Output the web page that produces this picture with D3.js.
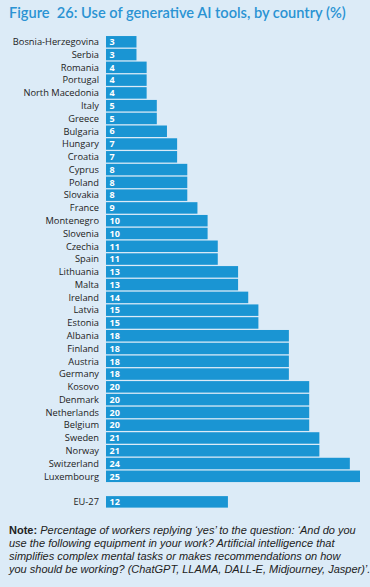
<!DOCTYPE html>
<html><head><meta charset="utf-8">
<script src="https://cdn.jsdelivr.net/npm/d3@7"></script>
<style>
html,body{margin:0;padding:0;background:#dcebf7;}
svg{display:block;}
</style></head>
<body>
<script>
const countries = ["Bosnia-Herzegovina","Serbia","Romania","Portugal","North Macedonia","Italy","Greece","Bulgaria","Hungary","Croatia","Cyprus","Poland","Slovakia","France","Montenegro","Slovenia","Czechia","Spain","Lithuania","Malta","Ireland","Latvia","Estonia","Albania","Finland","Austria","Germany","Kosovo","Denmark","Netherlands","Belgium","Sweden","Norway","Switzerland","Luxembourg"];
const values = [3,3,4,4,4,5,5,6,7,7,8,8,8,9,10,10,11,11,13,13,14,15,15,18,18,18,18,20,20,20,20,21,21,24,25];
const euLabel = "EU-27";
const euValue = 12;
const title = "Figure\u00a0 26: Use of generative AI tools, by country (%)";
const noteLines = [
  ["Note: ", "Percentage of workers replying \u2018yes\u2019 to the question: \u2018And do you"],
  ["", "use the following equipment in your work? Artificial intelligence that"],
  ["", "simplifies complex mental tasks or makes recommendations on how"],
  ["", "you should be working? (ChatGPT, LLAMA, DALL-E, Midjourney, Jasper)\u2019."]
];

const W = 370, H = 587;
const svg = d3.select("body").append("svg").attr("width", W).attr("height", H);
svg.append("rect").attr("width", W).attr("height", H).attr("fill", "#dcebf7");

svg.append("text").attr("x", 9).attr("y", 18)
  .attr("font-family", "Lato, 'Open Sans', sans-serif").attr("font-weight", 600)
  .attr("font-size", 14.6).attr("fill", "#2a93d3").text(title);

const rows = countries.concat(["", euLabel]);
const rowVals = values.concat([null, euValue]);
const y = d3.scaleBand().domain(d3.range(rows.length)).range([35.4, 35.4 + 12.78 * rows.length]).paddingInner(0.1).paddingOuter(0.05);
const x = d3.scaleLinear().domain([0, 25]).range([106, 360]);

const g = svg.append("g");
rows.forEach((c, i) => {
  if (rowVals[i] == null) return;
  g.append("rect").attr("x", x(0)).attr("y", y(i)).attr("width", x(rowVals[i]) - x(0))
    .attr("height", y.bandwidth()).attr("fill", "#1a95d3");
  g.append("text").attr("x", x(0) - 7).attr("y", y(i) + y.bandwidth() / 2).attr("dy", "0.35em")
    .attr("text-anchor", "end").attr("font-family", "'Open Sans', sans-serif").attr("font-size", 9.3)
    .attr("fill", "#222").text(c);
  g.append("text").attr("x", x(0) + 3.5).attr("y", y(i) + y.bandwidth() / 2).attr("dy", "0.36em")
    .attr("font-family", "'Open Sans', sans-serif").attr("font-size", 9).attr("font-weight", 700)
    .attr("fill", "#fff").text(rowVals[i]);
});

noteLines.forEach((l, i) => {
  const t = svg.append("text").attr("x", 9).attr("y", 534 + i * 13)
    .attr("font-family", "'Liberation Sans', Arial, sans-serif").attr("font-size", 11).attr("fill", "#222");
  if (l[0]) t.append("tspan").attr("font-weight", 700).text(l[0]);
  t.append("tspan").attr("font-style", "italic").text(l[1]);
});
</script>
</body></html>
